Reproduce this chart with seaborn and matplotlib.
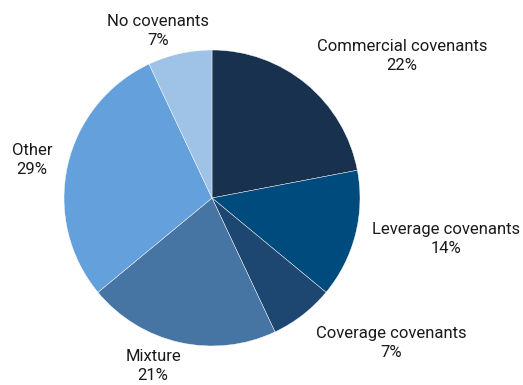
import matplotlib
matplotlib.use("Agg")
import matplotlib.pyplot as plt
import seaborn as sns

categories = ["Commercial covenants", "Leverage covenants", "Coverage covenants",
              "Mixture", "Other", "No covenants"]
shares = [22, 14, 7, 21, 29, 7]
colors = ["#17314f", "#004b7d", "#1d4670", "#4674a3", "#64a0dc", "#9fc2e7"]

# label anchor points (pixels from top-left of the figure)
label_px = [(402, 56), (446, 239), (391, 343), (153, 366), (32, 160), (158, 31)]

sns.set_theme(style="white")
plt.rcParams["font.family"] = ["Roboto", "DejaVu Sans"]

W, H, DPI = 523, 385, 100
cx, cy, r = 212, 198, 148

fig = plt.figure(figsize=(W / DPI, H / DPI), dpi=DPI)
ax = fig.add_axes([0, 0, 1, 1])
ax.pie(shares, colors=colors, startangle=90, counterclock=False, radius=1,
       wedgeprops=dict(edgecolor="white", linewidth=0.3))
ax.set_xlim(-cx / r, (W - cx) / r)
ax.set_ylim(-(H - cy) / r, cy / r)
ax.set_aspect("equal")
ax.axis("off")

for name, val, (px, py) in zip(categories, shares, label_px):
    ax.text((px - cx) / r, (cy - py) / r, f"{name}\n{val}%", ha="center", va="center",
            fontsize=12, color="#1a1a1a", linespacing=1.3)

fig.savefig("out.png", dpi=DPI, facecolor="white")
